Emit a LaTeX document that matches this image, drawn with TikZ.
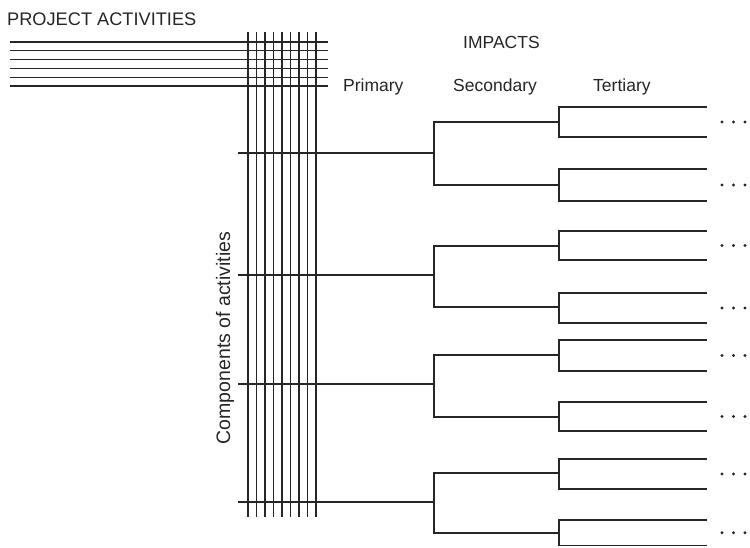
\documentclass[tikz,border=0pt]{standalone}
\usepackage{fontspec}
\setmainfont{Liberation Sans}
\begin{document}
\begin{tikzpicture}[x=1pt,y=-1pt,
  ln/.style={line width=1.1pt, draw=black!85},
  lbl/.style={font=\fontsize{17.5}{20}\selectfont, text=black!85, inner sep=0pt, anchor=base west},
  dotm/.style={circle, fill=black!85, inner sep=0pt, minimum size=3.2pt}]
\useasboundingbox[fill=white] (0,0) rectangle (750,547);
% labels
\node[lbl, font=\fontsize{18.2}{20}\selectfont] (proj) at (7,25) {PROJECT ACTIVITIES};
\node[lbl] (imp) at (463,48) {IMPACTS};
\node[lbl] (prim) at (343,91) {Primary};
\node[lbl] (sec) at (453,91) {Secondary};
\node[lbl] (ter) at (593,91) {Tertiary};
\node[lbl, font=\fontsize{19.5}{22}\selectfont, rotate=90, anchor=center] (comp) at (225,338) {Components of activities};
% project activity lines
\foreach \i in {0,...,5}{
  \coordinate (pa\i) at (10,42+\i*8.8);
  \coordinate (pb\i) at (328,42+\i*8.8);
  \draw[ln] (pa\i) -- (pb\i);
}
% component grid verticals
\foreach \i in {0,...,8}{
  \coordinate (va\i) at (248+\i*8.5,32);
  \coordinate (vb\i) at (248+\i*8.5,517);
  \draw[ln] (va\i) -- (vb\i);
}
% impact trees
\foreach \g/\p/\sa/\sb/\ta/\tb/\tc/\td in {1/153/122/185/107/137/169/201, 2/275/246/307/231/260/293/323, 3/384/355/417/340/371/402/431, 4/502/473/533/459/489/520/545.5}{
  \coordinate (c\g) at (238,\p);
  \coordinate (s\g) at (434,\p);
  \coordinate (s\g a) at (434,\sa);
  \coordinate (s\g b) at (434,\sb);
  \coordinate (t\g a) at (559,\sa);
  \coordinate (t\g b) at (559,\sb);
  \coordinate (t\g a1) at (559,\ta);
  \coordinate (t\g a2) at (559,\tb);
  \coordinate (t\g b1) at (559,\tc);
  \coordinate (t\g b2) at (559,\td);
  \coordinate (e\g a1) at (707,\ta);
  \coordinate (e\g a2) at (707,\tb);
  \coordinate (e\g b1) at (707,\tc);
  \coordinate (e\g b2) at (707,\td);
  \draw[ln] (c\g) -- (s\g);
  \draw[ln] (t\g a) -- (s\g a) -- (s\g b) -- (t\g b);
  \draw[ln] (e\g a1) -- (t\g a1) -- (t\g a2) -- (e\g a2);
  \draw[ln] (e\g b1) -- (t\g b1) -- (t\g b2) -- (e\g b2);
  \pgfmathsetmacro\ma{(\ta+\tb)/2}
  \pgfmathsetmacro\mb{(\tc+\td)/2}
  \foreach \xx [count=\j] in {722,733.5,745}{
    \node[dotm] (d\g a\j) at (\xx,\ma) {};
    \node[dotm] (d\g b\j) at (\xx,\mb) {};
  }
}
\end{tikzpicture}
\end{document}
